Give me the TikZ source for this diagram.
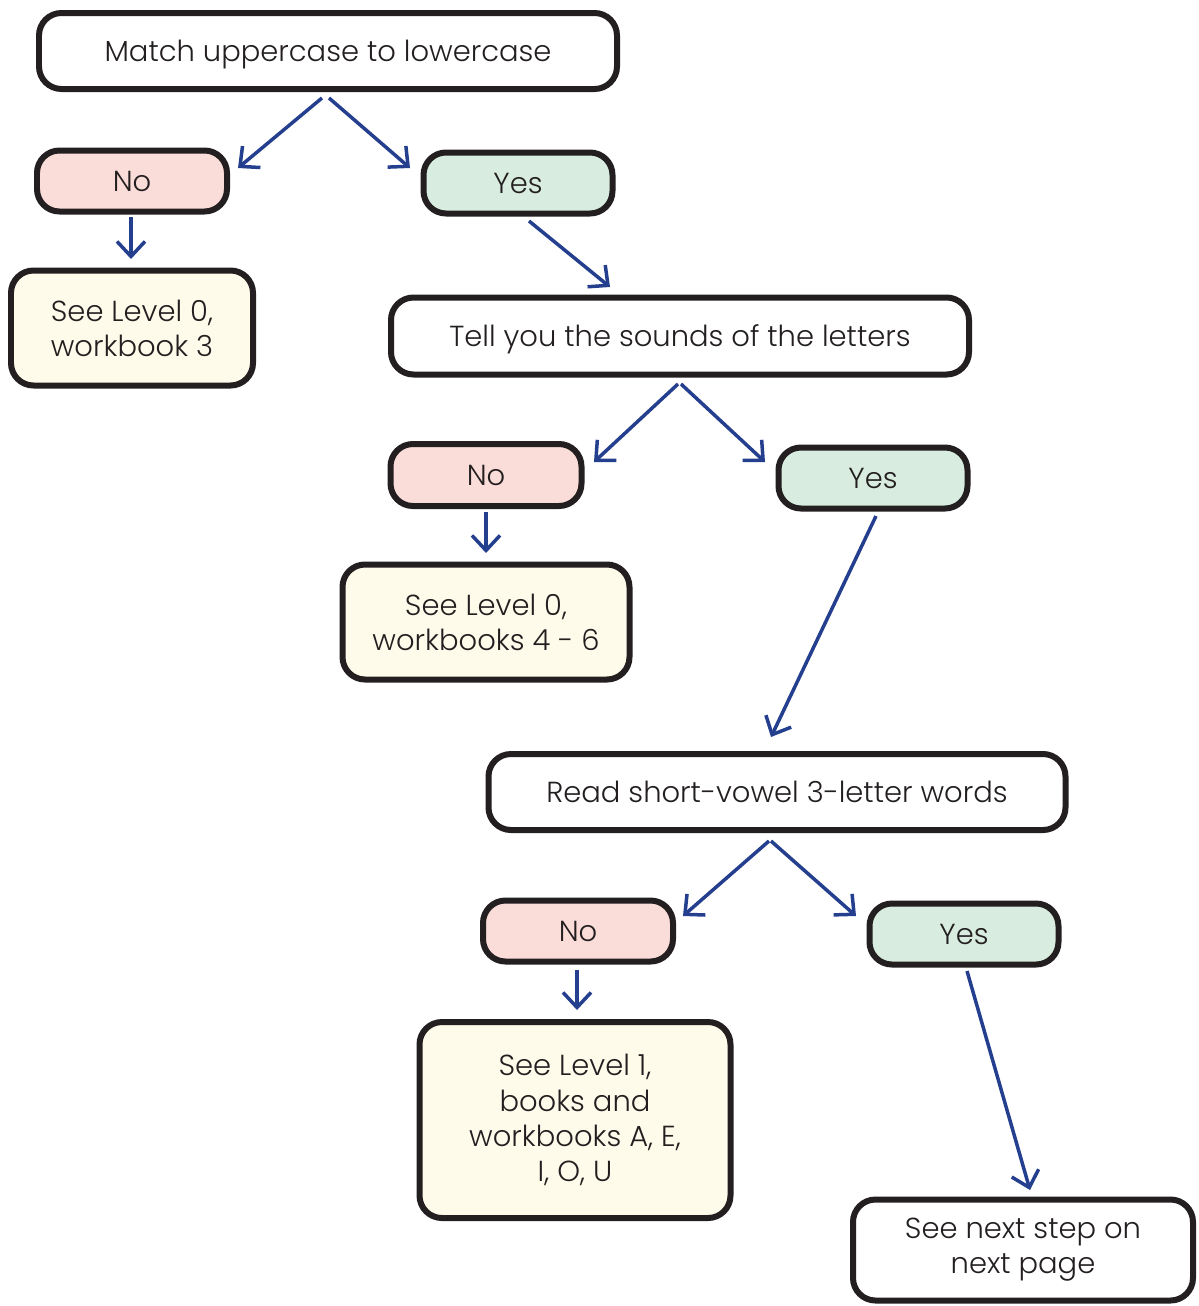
\documentclass[tikz,border=0pt]{standalone}
\usepackage{fontspec}
\setmainfont{Poppins}[UprightFont=* Light]
\usepackage{xcolor}
\usetikzlibrary{arrows.meta}

\begin{document}
\begin{tikzpicture}[x=0.02cm, y=-0.02cm,
    box/.style={draw=boxLine, line width=0.12cm, rounded corners=0.45cm,
      fill=white, text=boxLine, align=center, inner sep=0pt,
      font=\fontsize{16.5}{20}\selectfont},
    oneLine/.style={text height=13.5pt, text depth=1pt},
    noBox/.style={box, oneLine, fill=noFill},
    yesBox/.style={box, oneLine, fill=yesFill},
    endBox/.style={box, fill=endFill},
    dims/.style 2 args={minimum width=#1*0.02cm, minimum height=#2*0.02cm},
    arr/.style={draw=arrowBlue, line width=0.07cm,
      -{Straight Barb[length=0.3cm, width=0.56cm]}}]
  \definecolor{boxLine}{HTML}{231F20}
  \definecolor{noFill}{HTML}{FADCD8}
  \definecolor{yesFill}{HTML}{D8ECDF}
  \definecolor{endFill}{HTML}{FFFBEA}
  \definecolor{arrowBlue}{HTML}{253F8F}
  \useasboundingbox (0,0) rectangle (1199,1306);

  \node[box, oneLine, dims={578}{76}] (q1) at (328,51) {Match uppercase to lowercase};
  \node[noBox, dims={190}{61}] (no1) at (132,181) {No};
  \node[yesBox, dims={189}{61}] (yes1) at (518,183) {Yes};
  \node[endBox, dims={242}{115}] (res1) at (132,328) {See Level 0,\\workbook 3};

  \node[box, oneLine, dims={578}{77}] (q2) at (680,336) {Tell you the sounds of the letters};
  \node[noBox, dims={191}{62}] (no2) at (486,475) {No};
  \node[yesBox, dims={189}{61}] (yes2) at (873,478) {Yes};
  \node[endBox, dims={287}{115}] (res2) at (486,622) {See Level 0,\\workbooks 4 - 6};

  \node[box, oneLine, dims={577}{76}] (q3) at (777,792) {Read short-vowel 3-letter words};
  \node[noBox, dims={190}{61}] (no3) at (578,931) {No};
  \node[yesBox, dims={189}{61}] (yes3) at (964,934) {Yes};
  \node[endBox, dims={311}{196}] (res3) at (575,1120)
    {See Level 1,\\books and\\workbooks A, E,\\I, O, U};
  \node[box, dims={340}{101}] (next) at (1023,1250) {See next step on\\next page};

  \draw[arr] ([shift={(-6,6)}]q1.south) -- ([shift={(8,-13)}]no1.east);
  \draw[arr] ([shift={(1,6)}]q1.south) -- ([shift={(-10.5,-15)}]yes1.west);
  \draw[arr] ([shift={(-1,2.5)}]no1.south) -- ([shift={(-1,-8.5)}]res1.north);
  \draw[arr] ([shift={(11,4.5)}]yes1.south) -- ([shift={(-70,-7.5)}]q2.north);

  \draw[arr] ([shift={(-2,6.5)}]q2.south) -- ([shift={(9.5,-13)}]no2.east);
  \draw[arr] ([shift={(1,6.5)}]q2.south) -- ([shift={(-10.5,-16)}]yes2.west);
  \draw[arr] ([shift={(0,3)}]no2.south) -- ([shift={(0,-8.5)}]res2.north);
  \draw[arr] ([shift={(3,4.5)}]yes2.south) -- ([shift={(-6,-14)}]q3.north);

  \draw[arr] ([shift={(-8,8)}]q3.south) -- ([shift={(7,-15)}]no3.east);
  \draw[arr] ([shift={(-6,8)}]q3.south) -- ([shift={(-10.5,-18)}]yes3.west);
  \draw[arr] ([shift={(-1,5.5)}]no3.south) -- ([shift={(2,-9)}]res3.north);
  \draw[arr] ([shift={(3,3.5)}]yes3.south) -- ([shift={(7,-6.5)}]next.north);
\end{tikzpicture}
\end{document}
